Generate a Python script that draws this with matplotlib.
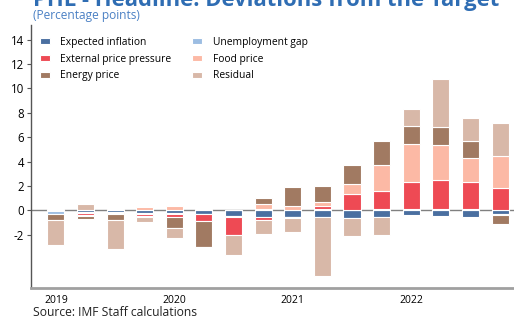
import numpy as np
import matplotlib
matplotlib.use('Agg')
import matplotlib.pyplot as plt

plt.rcParams['font.family'] = ['Open Sans', 'DejaVu Sans']

quarters = ['2019Q1', '2019Q2', '2019Q3', '2019Q4',
            '2020Q1', '2020Q2', '2020Q3', '2020Q4',
            '2021Q1', '2021Q2', '2021Q3', '2021Q4',
            '2022Q1', '2022Q2', '2022Q3', '2022Q4']

expected_inflation = [-0.05, -0.10, -0.10, -0.18, -0.17, -0.28, -0.45, -0.50,
                      -0.50, -0.55, -0.60, -0.50, -0.40, -0.45, -0.50, -0.30]
unemployment_gap = [-0.20, -0.08, -0.10, -0.08, -0.10, -0.05, -0.07, 0.10,
                    -0.07, 0.10, 0.05, 0.10, 0.10, 0.10, 0.10, -0.08]
external_price = [0.00, -0.17, -0.10, -0.22, -0.25, -0.50, -1.50, -0.25,
                  -0.08, 0.25, 1.30, 1.50, 2.25, 2.40, 2.20, 1.80]
food_price = [0.10, -0.08, 0.10, 0.25, 0.38, 0.10, 0.00, 0.40,
              0.40, 0.35, 0.80, 2.10, 3.10, 2.90, 2.00, 2.70]
energy_price = [-0.55, -0.25, -0.45, -0.05, -0.90, -2.15, 0.00, 0.50,
                1.50, 1.30, 1.60, 1.95, 1.50, 1.45, 1.40, -0.75]
residual = [-2.05, 0.50, -2.40, -0.42, -0.80, -0.05, -1.60, -1.15,
            -1.15, -4.80, -1.50, -1.50, 1.35, 3.90, 1.90, 2.65]

series = [
    ('Expected inflation', expected_inflation, '#4a6fa0'),
    ('Unemployment gap', unemployment_gap, '#9cbde2'),
    ('External price pressure', external_price, '#ee4a54'),
    ('Food price', food_price, '#fcb9a5'),
    ('Energy price', energy_price, '#a17a62'),
    ('Residual', residual, '#d8b8a8'),
]

x = np.arange(len(quarters))
fig = plt.figure(figsize=(5.14, 3.17), dpi=100)
ax = fig.add_axes([0.060, 0.0915, 0.94, 0.83])

pos = np.zeros(len(x))
neg = np.zeros(len(x))
handles = {}
for name, vals, col in series:
    v = np.array(vals)
    bottom = np.where(v >= 0, pos, neg)
    b = ax.bar(x, v, 0.575, bottom=bottom, color=col, edgecolor='white',
               linewidth=0.8, label=name)
    handles[name] = b
    pos = pos + np.where(v >= 0, v, 0)
    neg = neg + np.where(v < 0, v, 0)

ax.axhline(0, color='#808080', lw=1.0, zorder=0.5)

ax.set_xlim(-0.845, 15.47)
ax.set_ylim(-6.35, 15.2)
ax.set_yticks(range(-2, 15, 2))
ax.set_yticklabels([str(t) for t in range(-2, 15, 2)], fontsize=8.3)
ax.set_xticks([0, 4, 8, 12])
ax.set_xticklabels(['2019', '2020', '2021', '2022'], fontsize=7.5)
ax.tick_params(axis='x', length=0, pad=5)
ax.tick_params(axis='y', length=3, color='#555555', pad=2)

for s in ['top', 'right']:
    ax.spines[s].set_visible(False)
ax.spines['left'].set_color('#555555')
ax.spines['left'].set_linewidth(1.0)
ax.spines['bottom'].set_color('#a0a0a0')
ax.spines['bottom'].set_linewidth(2.0)

order = ['Expected inflation', 'External price pressure', 'Energy price',
         'Unemployment gap', 'Food price', 'Residual']
ax.legend([handles[n] for n in order], order, ncol=2, frameon=False,
          loc='upper left', bbox_to_anchor=(0.0186, 0.954), fontsize=7.4,
          handlelength=1.0, handleheight=0.55, handletextpad=1.0,
          columnspacing=2.0, labelspacing=0.55, borderaxespad=0, borderpad=0)

fig.text(0.064, 1 - 6 / 317, 'PHL - Headline: Deviations from the Target',
         fontsize=15.8, fontweight='bold', color='#2f6db3', va='baseline')
fig.text(0.064, 1 - 16 / 317, '(Percentage points)', fontsize=8.6,
         color='#4a80c4', va='center')
fig.text(0.064, 1 - 312 / 317, 'Source: IMF Staff calculations', fontsize=8.7,
         color='#222222', va='center')

fig.savefig('out.png', dpi=100)
